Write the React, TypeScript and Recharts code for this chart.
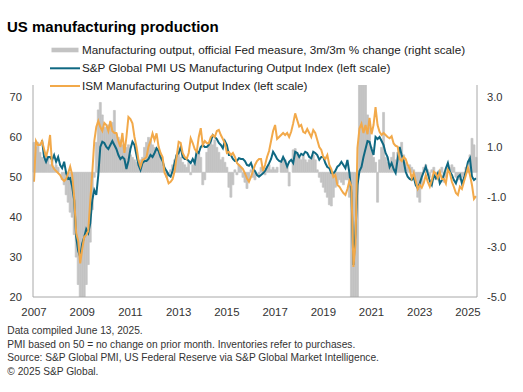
import React from 'react';
import { ComposedChart, Bar, Line, XAxis, YAxis } from 'recharts';

const years = [2007, 2008, 2009, 2010, 2011, 2012, 2013, 2014, 2015, 2016, 2017, 2018, 2019, 2020, 2021, 2022, 2023, 2024, 2025];
const monthNumbers = [1, 2, 3, 4, 5, 6, 7, 8, 9, 10, 11, 12];

const ismOutput = [
  48.8, 59, 58, 58, 59, 57, 55, 57, 60.5, 53, 52, 51.5,
  51, 50.5, 49.5, 49, 49.5, 51, 52.6, 50.5, 45, 36, 34, 28.4,
  32, 35, 35.5, 36.5, 44, 51, 59, 62.5, 64, 62.5, 61.5, 63.5,
  63, 61.5, 64, 61.5, 61, 61, 59, 57.5, 61, 56, 60, 65,
  64.5, 63.4, 60, 57.6, 54.25, 52.6, 54.25, 54.5, 55, 57.6, 59, 60.9,
  59.25, 60.9, 57.6, 56, 55, 51, 50, 48.4, 48.8, 49.5, 51.5, 55,
  58.8, 58.5, 56, 55, 54.5, 56, 59.7, 58.5, 57, 56.3, 60, 62.2,
  58, 59, 58.5, 58.4, 60, 60.5, 60, 61.5, 61.75, 60.5, 59.5, 58.4,
  56, 56.3, 55.5, 56, 55, 53.5, 53, 52.5, 52, 50.9, 49.7, 48.8,
  50, 51.5, 53, 54, 54.5, 54.5, 51.5, 53, 55, 56.5, 59, 61.5,
  63, 59.5, 60, 60.5, 61, 60.5, 61, 60, 61.3, 63.4, 65.9, 64.25,
  62.6, 63, 61.3, 61, 62, 61, 60, 61.75, 61, 59.25, 57.5, 56.75,
  55, 54.5, 55.5, 53, 52, 50, 50.5, 48, 47.6, 46.75, 46, 45.5,
  47, 49, 47.7, 27.5, 33.2, 57.3, 62.1, 63.3, 61, 63, 60.7, 64.8,
  60.7, 63, 67.5, 63, 61.3, 60.5, 61, 60.5, 60, 59.7, 60.2, 58.4,
  57.8, 57.6, 54.5, 54, 55, 54.5, 53, 52, 49.7, 51, 49, 47,
  48, 47.3, 48.5, 50.5, 48.8, 47.6, 49.2, 51.3, 50.9, 49.7, 51.3, 49.5,
  49.5, 48.4, 51.75, 51, 48.8, 47.5, 46, 45.5, 47.6, 47, 48.8, 50.5,
  52.3, 50.5, 48, 44.5, 45.2,
];

const pmiOutput = [
  null, null, null, null, 59.25, 55, 53.8, 55, 55, 54.25, 55.5, 53.8,
  55, 53, 52.2, 53.8, 51, 49.5, 49.7, 47.6, 44.25, 35, 31.5, 30,
  33.4, 35, 37, 36, 38.4, 44.25, 46.75, 45.5, 50.5, 57.5, 58.8, 58.5,
  57.5, 57, 58, 59, 58, 57, 55.5, 54.5, 55, 54.5, 52, 54,
  57, 58.8, 58, 55.5, 53, 51.75, 53.5, 54, 54, 54.5, 55.5, 55,
  56, 57.2, 56.5, 55, 54, 52.2, 51.5, 50.5, 50.1, 51.5, 53.5, 55.5,
  56, 57.5, 55, 54.5, 54.5, 54, 53.5, 54.5, 53.5, 56.5, 56, 57.5,
  58, 57.5, 57.5, 58, 59, 60.5, 60, 59.5, 58.5, 58, 57.2, 59,
  58, 55.5, 55.5, 54.5, 54, 54, 54.7, 54.5, 54.5, 54, 53, 52.8,
  53.5, 52, 51.5, 50.5, 50.1, 50.5, 50.9, 51.5, 52.5, 53.4, 54.5, 56.3,
  55.5, 54.5, 54, 53.8, 55, 54, 52.6, 53.8, 54.3, 53.5, 56.3, 56,
  55, 55.8, 55.5, 56.3, 56, 55, 54.7, 56.3, 56, 55.5, 54.3, 55,
  55, 53.5, 52.5, 52.2, 51, 50.9, 51.5, 52.6, 53, 53.8, 53, 52.2,
  54.25, 51, 46, 28, 36, 48, 51.5, 52.5, 55, 57, 59, 58.8,
  57, 55.5, 60, 59.5, 60, 59, 58, 56, 55, 52.5, 53.5, 52,
  51, 54.5, 57.5, 55.5, 54, 51.3, 50.1, 49.5, 49.25, 50, 48, 47.2,
  48.4, 50, 51.3, 52.6, 50.9, 49, 48, 50.5, 49.7, 50.9, 48.4, 49.25,
  50.5, 52.2, 53.5, 51.3, 50.5, 49.25, 48.4, 50, 50.5, 48.4, 49.7, 51.5,
  53.8, 54.7, 50.1, 49.25, 49.7,
];

const fedChange = [
  1.2, 1.0, 1.2, 0.8, 0.6, 0.5, 0.7, 0.6, 0.3, 0.5, 0.2, 0.3,
  0.2, 0.0, -0.3, -0.5, -0.9, -1.2, -1.6, -1.8, -2.5, -3.4, -4.5, -5.5,
  -6, -5.5, -4.5, -3.7, -2.8, -1.5, -0.2, 1.2, 2.5, 2.8, 2.3, 1.8,
  1.8, 1.9, 1.9, 2.0, 2.48, 1.55, 1.4, 1.3, 1.1, 1.0, 1.0, 1.1,
  0.7, 0.6, 0.5, 0.4, 0.3, 0.5, 0.6, 1.0, 1.2, 1.4, 1.3, 1.1,
  1.0, 0.9, 0.8, 0.6, 0.3, 0.2, -0.2, -0.1, 0.1, 0.3, 0.5, 0.7,
  0.8, 0.6, 0.4, 0.3, 0.2, 0.4, -0.1, 0.3, 0.5, 0.7, 0.8, 0.6,
  -0.5, -0.3, 0.8, 1.2, 1.3, 1.1, 1.3, 1.0, 0.8, 0.5, 0.6, 0.4,
  0.2, -0.6, -1.0, -0.5, 0.1, -0.1, 0.3, 0.2, -0.2, -0.4, -0.65, -0.3,
  0.1, -0.2, -0.3, 0.0, -0.1, 0.2, 0.1, -0.1, 0.2, 0.3, 0.1, 0.2,
  0.1, 0.2, 0.0, 0.4, 0.55, 0.5, 0.3, -0.55, 0.0, 0.9, 0.95, 0.8,
  0.6, 0.5, 0.7, 0.5, 0.4, 0.5, 0.6, 0.7, 0.5, 0.1, -0.2, -0.4,
  -0.6, -0.8, -1.0, -1.3, -1.35, -1.0, -0.6, -0.45, -0.3, -0.4, -0.5, -0.3,
  -0.3, -1.0, -6, -8, -8, -6, 5, 6, 5, 4, 2.3, 1.8,
  1.0, 0.6, 0.4, -1.2, 0.5, 1.0, 2.4, 0.6, 0.4, 0.3, 0.6, 0.8,
  0.5, 0.8, 0.9, 1.2, 0.7, 0.4, 0.2, 0.3, 0.2, 0.1, -0.4, -1.0,
  -1.2, -0.5, 0.2, 0.3, 0.1, -0.2, 0.1, 0.2, -0.3, -0.2, 0.1, 0.2,
  -0.4, -0.2, 0.3, 0.2, 0.3, 0.2, -0.2, -0.3, -0.3, -0.2, -0.1, 0.2,
  0.2, 0.7, 1.36, 1.1, 0.6,
];

const leftTicks = [20, 30, 40, 50, 60, 70];
const rightTicks = [-5, -3, -1, 1, 3];

const legendItems = [
  'Manufacturing output, official Fed measure, 3m/3m % change (right scale)',
  'S&P Global PMI US Manufacturing Output Index (left scale)',
  'ISM Manufacturing Output Index (left scale)',
];

const footnotes = [
  'Data compiled June 13, 2025.',
  'PMI based on 50 = no change on prior month. Inventories refer to purchases.',
  'Source: S&P Global PMI, US Federal Reserve via S&P Global Market Intelligence.',
  '\u00A9 2025 S&P Global.',
];

const monthLabels = years.flatMap((y) => monthNumbers.map((m) => `${y}-${m}`)).slice(0, ismOutput.length);

const data = monthLabels.map((label, i) => ({
  label,
  ism: ismOutput[i],
  pmi: pmiOutput[i],
  fed: fedChange[i],
}));

const FONT = '"Liberation Sans", Arial, Helvetica, sans-serif';
const TEAL = '#0f6882';
const ORANGE = '#f2a94a';
const GREY = '#c3c3c3';
const AXIS = '#a8a8a8';

export default function App() {
  return (
    <div style={{ position: 'absolute', left: 0, top: 0, width: 523, height: 392, background: '#fff', fontFamily: FONT }}>
      <ComposedChart
        width={523}
        height={392}
        data={data}
        margin={{ top: 85, right: 6, bottom: 75, left: 8 }}
        barCategoryGap={0}
        barGap={0}
      >
        <XAxis
          dataKey="label"
          interval={23}
          tickLine={false}
          tickSize={0}
          tickMargin={11}
          height={20}
          axisLine={{ stroke: AXIS, strokeWidth: 1 }}
          tick={{ fontSize: 11.4, fill: '#333', fontFamily: FONT }}
          tickFormatter={(v: string) => String(v).split('-')[0]}
        />
        <YAxis
          yAxisId="left"
          orientation="left"
          width={25}
          domain={[20, 73]}
          ticks={leftTicks}
          allowDataOverflow
          tickLine={false}
          tickSize={0}
          tickMargin={11}
          axisLine={{ stroke: AXIS, strokeWidth: 1 }}
          tick={{ fontSize: 11.2, fill: '#333', fontFamily: FONT }}
        />
        <YAxis
          yAxisId="right"
          orientation="right"
          width={40}
          domain={[-5, 3.5]}
          ticks={rightTicks}
          allowDataOverflow
          tickLine={false}
          tickSize={0}
          tickMargin={10}
          axisLine={{ stroke: AXIS, strokeWidth: 1 }}
          tick={{ fontSize: 11.2, fill: '#333', fontFamily: FONT }}
          tickFormatter={(v: number) => Number(v).toFixed(1)}
        />
        <Bar yAxisId="right" dataKey="fed" fill={GREY} stroke={GREY} strokeWidth={0.7} isAnimationActive={false} />
        <Line yAxisId="left" type="linear" dataKey="pmi" stroke={TEAL} strokeWidth={2} dot={false} isAnimationActive={false} />
        <Line yAxisId="left" type="linear" dataKey="ism" stroke={ORANGE} strokeWidth={2} dot={false} isAnimationActive={false} />
      </ComposedChart>
      <svg
        width={523}
        height={392}
        style={{ position: 'absolute', left: 0, top: 0, pointerEvents: 'none' }}
      >
        <text x={7} y={32} fontFamily={FONT} fontSize={15} fontWeight="bold" fill="#000">
          US manufacturing production
        </text>
        <rect x={51.5} y={47.7} width={27} height={4.6} fill={GREY} />
        <line x1={50} x2={80} y1={68.3} y2={68.3} stroke={TEAL} strokeWidth={2} />
        <line x1={50} x2={80} y1={86} y2={86} stroke={ORANGE} strokeWidth={2} />
        {legendItems.map((t, i) => (
          <text key={t} x={82} y={54 + i * 18} fontFamily={FONT} fontSize={11.7} fill="#222">
            {t}
          </text>
        ))}
        {footnotes.map((t, i) => (
          <text key={t} x={7.3} y={333.7 + i * 13.8} fontFamily={FONT} fontSize={10.2} fill="#333">
            {t}
          </text>
        ))}
      </svg>
    </div>
  );
}
